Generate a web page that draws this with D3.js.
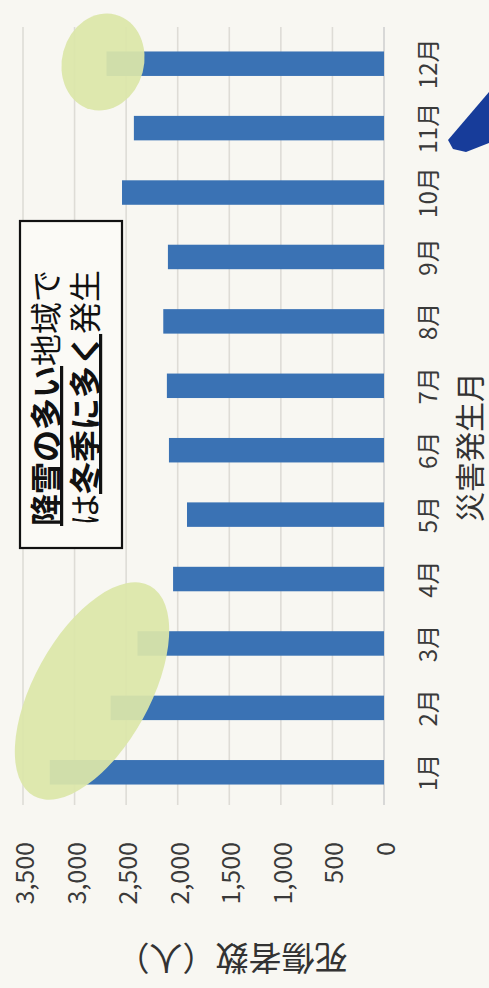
<!DOCTYPE html>
<html><head><meta charset="utf-8">
<script src="https://cdn.jsdelivr.net/npm/d3@7/dist/d3.min.js"></script>
<style>
html,body{margin:0;padding:0;background:#f8f7f2;}
svg{display:block;font-family:"Noto Sans CJK JP","Noto Sans",sans-serif;}
</style></head>
<body>
<script>
const months = ["1月","2月","3月","4月","5月","6月","7月","8月","9月","10月","11月","12月"];
const casualties = [3240, 2650, 2390, 2045, 1910, 2085, 2105, 2140, 2095, 2540, 2425, 2690];
const valueTicks = [0, 500, 1000, 1500, 2000, 2500, 3000, 3500];
const xTitle = "災害発生月";
const yTitle = "死傷者数（人）";
const noteLine1 = [["降雪の多い", true], ["地域で", false]];
const noteLine2 = [["は", false], ["冬季に多く", true], ["発生", false]];

const W = 489, H = 988;
const svg = d3.select("body").append("svg").attr("width", W).attr("height", H);
svg.append("rect").attr("width", W).attr("height", H).attr("fill", "#f8f7f2");

// The chart is drawn upright in a 988 x 489 frame, then turned -90°.
const g = svg.append("g").attr("transform", `translate(0,${H}) rotate(-90)`);

const x = d3.scaleBand().domain(months).range([183.5, 956.5]).paddingInner(0.62).paddingOuter(0.31);
const y = d3.scaleLinear().domain([0, 3500]).range([384, 23]);

// gridlines
g.append("g").selectAll("line").data(valueTicks).join("line")
  .attr("x1", 183).attr("x2", 961)
  .attr("y1", d => y(d)).attr("y2", d => y(d))
  .attr("stroke", d => d === 0 ? "#d0d0d0" : "#dedcd6").attr("stroke-width", 1.6);

// bars
g.append("g").selectAll("rect").data(casualties).join("rect")
  .attr("x", (d, i) => x(months[i]))
  .attr("width", x.bandwidth())
  .attr("y", d => y(d))
  .attr("height", d => y(0) - y(d))
  .attr("fill", "#3a72b4");

// value tick labels
g.append("g").selectAll("text").data(valueTicks).join("text")
  .attr("x", 146).attr("y", d => y(d))
  .attr("text-anchor", "end").attr("dominant-baseline", "central")
  .attr("font-size", 25).attr("fill", "#3a3a3a")
  .text(d => d3.format(",")(d));

// month labels
g.append("g").selectAll("text").data(months).join("text")
  .attr("x", d => x(d) + x.bandwidth() / 2).attr("y", 426)
  .attr("text-anchor", "middle").attr("dominant-baseline", "central")
  .attr("font-size", 24).attr("fill", "#3a3a3a")
  .text(d => d);

// axis titles
g.append("text").attr("x", 541).attr("y", 468)
  .attr("text-anchor", "middle").attr("dominant-baseline", "central")
  .attr("font-size", 30).attr("fill", "#333").text(xTitle);

g.append("text").attr("transform", "translate(28,232) rotate(-90)")
  .attr("text-anchor", "middle").attr("dominant-baseline", "central")
  .attr("font-size", 33).attr("fill", "#333").text(yTitle);

// highlight ellipses (screen coordinates)
const ov = svg.append("g");
ov.append("ellipse").attr("cx", 103).attr("cy", 62).attr("rx", 41).attr("ry", 49)
  .attr("transform", "rotate(15,103,62)")
  .attr("fill", "#dbe6a9").attr("opacity", 0.93);
ov.append("ellipse").attr("cx", 92).attr("cy", 691).attr("rx", 120).attr("ry", 58)
  .attr("transform", "rotate(-61,92,691)")
  .attr("fill", "#dbe6a9").attr("opacity", 0.93);

// note box (in chart frame)
const nb = g.append("g");
nb.append("rect").attr("x", 440).attr("y", 20).attr("width", 327).attr("height", 102)
  .attr("fill", "#fbfaf6").attr("stroke", "#111").attr("stroke-width", 2.2);
function noteLine(parts, yy) {
  const t = nb.append("text").attr("x", 462).attr("y", yy)
    .attr("font-size", 32).attr("fill", "#111");
  parts.forEach(([s, b]) => {
    t.append("tspan").text(s)
      .attr("font-weight", b ? 700 : 400)
      .style("text-decoration", b ? "underline" : "none");
  });
}
noteLine(noteLine1, 58);
noteLine(noteLine2, 97);

// blue pen tip from the page
svg.append("polygon")
  .attr("points", "448,140 489,92 489,143 466,152 453,149")
  .attr("fill", "#173c9a");
</script>
</body></html>
